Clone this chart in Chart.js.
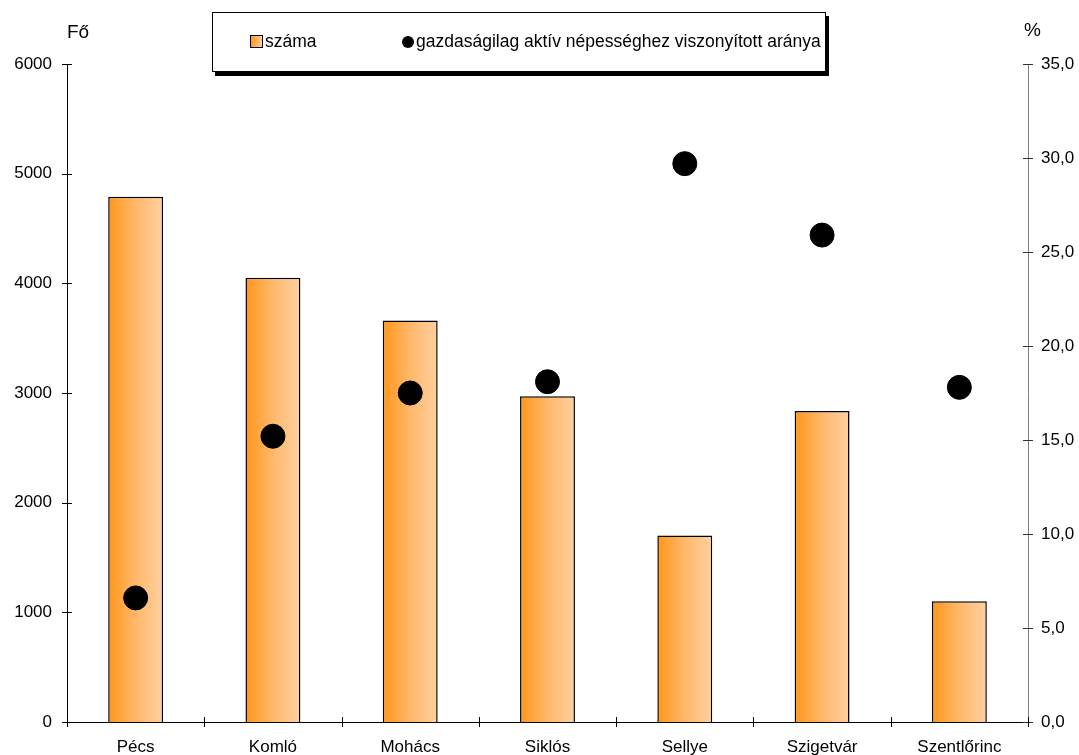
<!DOCTYPE html>
<html>
<head>
<meta charset="utf-8">
<script src="https://cdn.jsdelivr.net/npm/chart.js@4/dist/chart.umd.min.js"></script>
<style>
  body { margin: 0; background: #fff; font-family: "Liberation Sans", Arial, sans-serif; }
  #wrap { position: relative; width: 1079px; height: 755px; overflow: hidden; }
  #legend {
    position: absolute; left: 212px; top: 12px; width: 612px; height: 58px;
    border: 1px solid #000; background: #fff; box-shadow: 3px 4px 0 #000;
    font-size: 17.5px; color: #000;
  }
  #legend .item { position: absolute; top: 18px; display: flex; align-items: center; }
  .sq { width: 11px; height: 11px; border: 1px solid #000; margin-right: 2px;
        background: linear-gradient(to right, #ff9a1e, #ffcc99); }
  .dot { width: 12px; height: 12px; border-radius: 50%; background: #000; margin-right: 2px; }
  .unit { position: absolute; font-size: 19px; color: #000; }
</style>
</head>
<body>
<div id="wrap">
  <canvas id="chart" width="1079" height="755"></canvas>
  <div class="unit" style="left:67px; top:21px;">Fő</div>
  <div class="unit" style="left:1024px; top:19px;">%</div>
  <div id="legend">
    <div class="item" style="left:37px;"><span class="sq"></span>száma</div>
    <div class="item" style="left:189px;"><span class="dot"></span>gazdaságilag aktív népességhez viszonyított aránya</div>
  </div>
</div>
<script>
const categories = ["Pécs", "Komló", "Mohács", "Siklós", "Sellye", "Szigetvár", "Szentlőrinc"];
const szama = [4790, 4050, 3660, 2970, 1700, 2835, 1100];
const arany = [6.6, 15.2, 17.5, 18.1, 29.7, 25.9, 17.8];

const BAR_FRACTION = 0.4;

// gradient across each bar, left dark orange -> right light
function barGradient(context) {
    const chart = context.chart;
    const x = chart.scales.x;
    if (!x || context.dataIndex === undefined) return '#ffb060';
    const cx = x.getPixelForValue(context.dataIndex);
    const half = (x.width / categories.length) * BAR_FRACTION / 2;
    if (!isFinite(cx) || !isFinite(half) || half <= 0) return '#ffb060';
    const g = chart.ctx.createLinearGradient(cx - half, 0, cx + half, 0);
    g.addColorStop(0, '#ff961a');
    g.addColorStop(0.5, '#ffb86a');
    g.addColorStop(1, '#ffd0a0');
    return g;
}

// small tick marks crossing the axis lines
const crossTicks = {
    id: 'crossTicks',
    afterDraw(chart) {
        const ctx = chart.ctx;
        const { x, y, y1 } = chart.scales;
        const area = chart.chartArea;
        ctx.save();
        ctx.lineWidth = 1;
        ctx.strokeStyle = '#000';
        y.ticks.forEach((t, i) => {
            const py = Math.round(y.getPixelForTick(i)) + 0.5;
            ctx.beginPath(); ctx.moveTo(area.left - 5, py); ctx.lineTo(area.left + 5, py); ctx.stroke();
        });
        ctx.strokeStyle = '#333';
        y1.ticks.forEach((t, i) => {
            const py = Math.round(y1.getPixelForTick(i)) + 0.5;
            ctx.beginPath(); ctx.moveTo(area.right - 5, py); ctx.lineTo(area.right + 5, py); ctx.stroke();
        });
        ctx.strokeStyle = '#000';
        const step = x.width / categories.length;
        for (let i = 0; i <= categories.length; i++) {
            const px = Math.round(area.left + i * step) + 0.5;
            ctx.beginPath(); ctx.moveTo(px, area.bottom - 5); ctx.lineTo(px, area.bottom + 5); ctx.stroke();
        }
        ctx.restore();
    }
};

Chart.defaults.font.family = '"Liberation Sans", Arial, sans-serif';
Chart.defaults.font.size = 17;
Chart.defaults.color = '#000';

const chart = new Chart(document.getElementById('chart').getContext('2d'), {
    data: {
        labels: categories,
        datasets: [
            {
                type: 'scatter',
                label: 'gazdaságilag aktív népességhez viszonyított aránya',
                data: arany,
                yAxisID: 'y1',
                backgroundColor: '#000',
                borderColor: '#000',
                pointRadius: 12,
                showLine: false,
                order: 0
            },
            {
                type: 'bar',
                label: 'száma',
                data: szama,
                yAxisID: 'y',
                backgroundColor: barGradient,
                borderColor: '#000',
                borderWidth: 1.5,
                barPercentage: 0.8,
                categoryPercentage: 0.5,
                order: 1
            }
        ]
    },
    options: {
        responsive: false,
        animation: false,
        layout: { padding: { top: 64, left: 0, right: 0, bottom: 0 } },
        plugins: { legend: { display: false }, tooltip: { enabled: false } },
        scales: {
            x: {
                type: 'category',
                offset: true,
                grid: { display: false, drawTicks: false },
                border: { color: '#000', width: 1 },
                ticks: { padding: 15, autoSkip: false, maxRotation: 0 },
                afterFit: s => { s.height = 33; }
            },
            y: {
                position: 'left',
                min: 0, max: 6000,
                ticks: { stepSize: 1000, padding: 15, callback: v => String(v) },
                grid: { display: false, drawTicks: false },
                border: { color: '#000', width: 1 },
                afterFit: s => { s.width = 67; }
            },
            y1: {
                position: 'right',
                min: 0, max: 35,
                ticks: { stepSize: 5, padding: 13, callback: v => v.toFixed(1).replace('.', ',') },
                grid: { display: false, drawTicks: false },
                border: { color: '#808080', width: 1 },
                afterFit: s => { s.width = 51; }
            }
        }
    },
    plugins: [crossTicks]
});
chart.update(); // re-resolve gradients once scales are laid out
</script>
</body>
</html>
